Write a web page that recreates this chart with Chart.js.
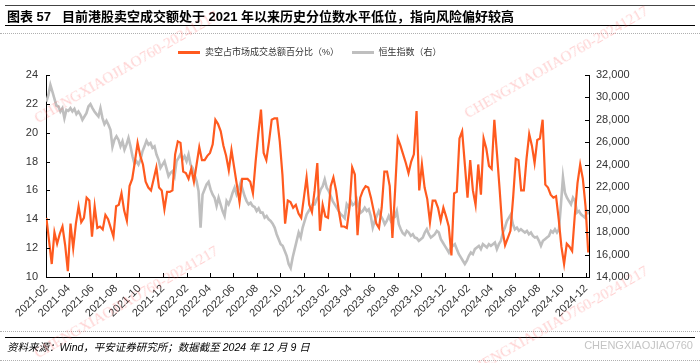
<!DOCTYPE html>
<html>
<head>
<meta charset="utf-8">
<script src="https://cdn.jsdelivr.net/npm/chart.js@4.4.1/dist/chart.umd.min.js"></script>
<style>
  body { margin: 0; width: 700px; height: 363px; background: #fff; position: relative; overflow: hidden;
         font-family: 'Liberation Sans', 'Noto Sans CJK SC', sans-serif; color: #333; }
  #chart { position: absolute; left: 0; top: 0; }
  .rule { position: absolute; left: 5px; right: 5px; height: 0; }
  .dots { position: absolute; left: 0; right: 0; height: 0; border-top: 1px dotted #b0b0b0; }
  .title { position: absolute; left: 7px; top: 10px; font-size: 13px; font-weight: bold; color: #000; line-height: 14px; white-space: pre; }
  .legend { position: absolute; left: 178px; top: 45px; font-size: 9px; line-height: 14px; white-space: nowrap; }
  .legend span.key { display: inline-block; width: 22px; height: 3px; vertical-align: middle; margin-right: 5px; }
  .legend span.item { margin-right: 10px; }
  .source { position: absolute; left: 7px; top: 339px; font-size: 10.5px; font-style: italic; color: #000; white-space: pre; }
  .mark { position: absolute; right: 7px; top: 339px; font-size: 11px; color: #c4c4c4; }
  .wm { position: absolute; font: 15px 'Liberation Serif', serif; color: rgba(255, 90, 90, 0.28);
        transform: rotate(-30deg); transform-origin: left bottom; white-space: nowrap; pointer-events: none; }
</style>
</head>
<body>
<canvas id="chart" width="700" height="363"></canvas>

<div class="rule" style="top:5px;border-top:1px solid #444"></div>
<div class="title">图表 57   目前港股卖空成交额处于 2021 年以来历史分位数水平低位，指向风险偏好较高</div>
<div class="rule" style="top:25px;border-top:1.5px solid #000"></div>
<div class="dots" style="top:33px"></div>

<div class="legend">
  <span class="item"><span class="key" style="background:#FF5A1F"></span>卖空占市场成交总额百分比（%）</span>
  <span><span class="key" style="background:#BFBFBF"></span>恒生指数（右）</span>
</div>

<div class="dots" style="top:331px"></div>
<div class="rule" style="top:337px;border-top:1.5px solid #000"></div>
<div class="source">资料来源：Wind，平安证券研究所；数据截至 2024 年 12 月 9 日</div>
<div class="mark">CHENGXIAOJIAO760</div>
<div class="dots" style="top:360px"></div>

<div class="wm" style="left:40px;top:110px">CHENGXIAOJIAO760-20241217</div>
<div class="wm" style="left:40px;top:345px">CHENGXIAOJIAO760-20241217</div>
<div class="wm" style="left:470px;top:105px">CHENGXIAOJIAO760-20241217</div>
<div class="wm" style="left:470px;top:365px">CHENGXIAOJIAO760-20241217</div>

<script>
// short selling turnover share (%), weekly readings, Feb 2021 - Dec 2024
const shortShare = [
  14.1, 12.5, 10.9, 13.1, 12.3, 13.0, 13.5, 12.2, 10.4, 13.7, 12.0, 13.7, 14.9, 13.8, 14.1, 15.5,
  15.3, 12.8, 14.9, 13.4, 13.5, 13.3, 14.3, 14.0, 13.4, 12.8, 14.9, 15.0, 15.8, 14.6, 13.9, 16.3,
  16.8, 18.0, 19.3, 18.4, 17.8, 16.6, 16.2, 16.0, 16.8, 17.6, 16.2, 16.0, 14.7, 15.9, 15.9,
  16.0, 18.5, 19.4, 19.3, 17.3, 17.2, 16.8, 17.5, 16.6, 17.8, 19.0, 18.1, 18.1, 18.4, 18.6, 19.2,
  20.9, 20.6, 20.1, 19.1, 18.4, 17.4, 18.8, 17.6, 16.4, 15.2, 16.8, 16.8, 16.8, 16.6, 15.8, 18.0,
  19.9, 21.6, 18.6, 18.1, 19.4, 20.9, 21.0, 21.0, 19.4, 17.1, 13.7, 15.3, 15.2, 14.8, 15.0, 14.4,
  14.1, 15.5, 16.9,
  15.0, 14.5, 16.0, 17.9, 13.2, 15.0, 14.2, 14.1, 16.3, 16.9, 16.0, 14.6, 13.5, 13.5, 13.4, 14.8,
  17.6, 17.1, 12.9, 15.5, 16.0, 16.3, 16.2, 15.5, 14.6, 13.7, 13.4, 14.8, 17.3, 17.3, 16.3, 12.7,
  16.0, 19.6, 19.1, 18.5, 17.9, 17.2, 18.0, 18.5, 21.5, 16.0, 17.8, 16.2, 15.4, 13.8, 15.3, 15.3,
  14.8, 13.9, 14.8,
  14.2, 13.5, 11.5, 15.8, 15.9, 19.6, 20.1, 17.8, 15.5, 18.1, 16.0, 15.0, 17.8, 15.7, 19.6, 18.9,
  17.7, 17.5, 20.9, 18.5, 16.0, 13.3, 12.2, 12.7, 13.2, 15.5, 18.2, 18.1, 16.0, 16.0, 18.2, 19.9,
  19.1, 17.9, 19.5, 19.6, 20.9, 16.4, 16.2, 15.7, 15.5, 15.6, 14.0, 12.1, 10.9, 12.3, 12.1, 11.8,
  14.3, 16.5, 17.8, 16.8, 14.9, 11.7
]

// Hang Seng index at short steps
const hsi = [
  29635, 30226, 31113, 30522, 29900, 29280, 29192, 28748, 29044, 28157, 28896, 28807, 29044, 28748,
  28985, 28512, 28748, 28452, 28009, 28304, 28600, 29192, 29399, 29044, 28748, 28512, 28304, 29044,
  28157, 27625, 27921, 27566, 27123, 25600, 26236, 26532, 26236, 25645, 26088, 25349, 25792, 26384,
  25645, 24758, 24078, 24315, 24019, 24463, 25201, 25645, 26147, 25792, 25940, 25497, 25645, 24906,
  24463, 23724, 24019, 24315, 23664, 22984, 23280, 23428, 22984,
  24315, 24610, 24965, 24463, 24758, 24315, 24906, 24019, 23724, 23132, 22541, 21654, 18402, 21358,
  21802, 22245, 22482, 21802, 21358, 21062, 20324, 21062, 20472, 19880, 19437, 20767, 20472, 20915,
  21506, 21950, 21358, 21802, 22393, 21802, 21210, 20767, 20472, 20620, 20324, 20235, 19880, 20117,
  19733, 19733, 19289, 19437, 19141, 18994, 18757, 18402, 17811, 17367, 16924, 16776, 16333, 15890,
  15151, 14796, 15742, 16481, 17220, 17959, 17515, 18402, 18994, 19585, 19880, 20176, 20472,
  20472, 20915, 21210, 21802, 22098, 22689, 21950, 21654, 21210, 20767, 20472, 20176, 19880, 19585,
  19437, 19230, 20472, 20176, 20767, 20413, 20531, 20915, 20176, 19733, 19880, 20176, 19880, 20028,
  19437, 18402, 18994, 19437, 19880, 19437, 19141, 18698, 18994, 19437, 18994, 19289, 19348, 19880,
  18700, 18250, 17900, 17752, 18107, 17959, 17663, 17811, 17515, 17456, 17220, 17367, 17515, 17959,
  18255, 17811, 17515, 17663, 17811, 18107, 17959, 17367, 17072, 16776, 16481, 16185,
  16628, 16776, 16924, 16481, 16037, 15742, 15446, 15151, 15446, 15890, 16185, 16037, 16481, 16628,
  16776, 16481, 16924, 16776, 16628, 16924, 16776, 16924, 17072, 16481, 16924, 17220, 17959, 18402,
  18994, 19289, 19585, 18698, 18255, 18402, 18107, 18255, 18107, 17959, 18107, 17811, 17959, 17663,
  17515, 17575, 17220, 16776, 17220, 17367, 17515, 17663, 18107, 17959, 18255, 17959, 18255, 20500,
  22900, 21500, 21062, 20767, 20472, 21062, 20767, 19733, 19880, 19585, 19437, 19289, 19880, 19600
]

const monthLabels = [
  '2021-02', '2021-04', '2021-06', '2021-08', '2021-10', '2021-12',
  '2022-02', '2022-04', '2022-06', '2022-08', '2022-10', '2022-12',
  '2023-02', '2023-04', '2023-06', '2023-08', '2023-10', '2023-12',
  '2024-02', '2024-04', '2024-06', '2024-08', '2024-10', '2024-12'
]
const startDate = '2021-02-01'
const endDate = '2024-12-09'

// days since the start of the axis
const dayOf = (s) => {
  const [y, m, d] = s.split('-').map(Number)
  return (Date.UTC(y, m - 1, d || 1) - Date.UTC(2021, 1, 1)) / 864e5
}
const lastDay = dayOf(endDate)

// both series are sampled at an even step over the period
const spread = (values, from, to) => {
  const step = (to - from) / (values.length - 1)
  return values.map((v, i) => ({ x: from + i * step, y: v }))
}

const font = { family: "'Liberation Sans', 'Noto Sans CJK SC', sans-serif", size: 11 }

// tick marks pointing into the plot, as in the original
const innerTicks = {
  id: 'innerTicks',
  afterDatasetsDraw(chart) {
    const { ctx, chartArea: a, scales } = chart
    ctx.save()
    ctx.strokeStyle = '#000'
    ctx.lineWidth = 1
    ctx.beginPath()
    scales.y.ticks.forEach((t) => {
      const p = Math.round(scales.y.getPixelForValue(t.value)) + 0.5
      ctx.moveTo(a.left, p)
      ctx.lineTo(a.left + 4, p)
    })
    scales.y1.ticks.forEach((t) => {
      const p = Math.round(scales.y1.getPixelForValue(t.value)) + 0.5
      ctx.moveTo(a.right, p)
      ctx.lineTo(a.right - 4, p)
    })
    scales.x.ticks.forEach((t) => {
      const p = Math.round(scales.x.getPixelForValue(t.value)) + 0.5
      ctx.moveTo(p, a.bottom)
      ctx.lineTo(p, a.bottom - 4)
    })
    ctx.stroke()
    ctx.restore()
  },
}

new Chart(document.getElementById('chart'), {
  type: 'line',
  data: {
    datasets: [
      {
        label: '卖空占市场成交总额百分比（%）',
        data: spread(shortShare, 1, lastDay - 2),
        borderColor: '#FF5A1F',
        borderWidth: 2.2,
        pointRadius: 0,
        yAxisID: 'y',
      },
      {
        label: '恒生指数（右）',
        data: spread(hsi, 1, lastDay),
        borderColor: '#BFBFBF',
        borderWidth: 2.6,
        pointRadius: 0,
        yAxisID: 'y1',
      },
    ],
  },
  options: {
    responsive: false,
    animation: false,
    devicePixelRatio: 1,
    layout: { padding: { top: 75, left: 0, right: 0, bottom: 0 } },
    plugins: { legend: { display: false }, tooltip: { enabled: false } },
    scales: {
      x: {
        type: 'linear',
        min: 0,
        max: lastDay,
        grid: { display: false, drawTicks: false },
        border: { color: '#000', width: 1 },
        afterBuildTicks: (s) => {
          s.ticks = monthLabels.map((m) => ({ value: dayOf(m + '-01') }))
        },
        afterFit: (s) => {
          s.height = 86
        },
        ticks: {
          autoSkip: false,
          maxRotation: 45,
          minRotation: 45,
          padding: 5,
          color: '#333',
          font,
          callback: (v, i) => monthLabels[i],
        },
      },
      y: {
        position: 'left',
        min: 10,
        max: 24,
        grid: { display: false, drawTicks: false },
        border: { color: '#000', width: 1 },
        afterFit: (s) => {
          s.width = 46
        },
        ticks: { stepSize: 2, padding: 8, color: '#333', font },
      },
      y1: {
        position: 'right',
        min: 14000,
        max: 32000,
        grid: { display: false, drawTicks: false },
        border: { color: '#000', width: 1 },
        afterFit: (s) => {
          s.width = 111
        },
        ticks: {
          stepSize: 2000,
          padding: 7,
          color: '#333',
          font,
          callback: (v) => v.toLocaleString('en-US'),
        },
      },
    },
  },
  plugins: [innerTicks],
})
</script>
</body>
</html>
